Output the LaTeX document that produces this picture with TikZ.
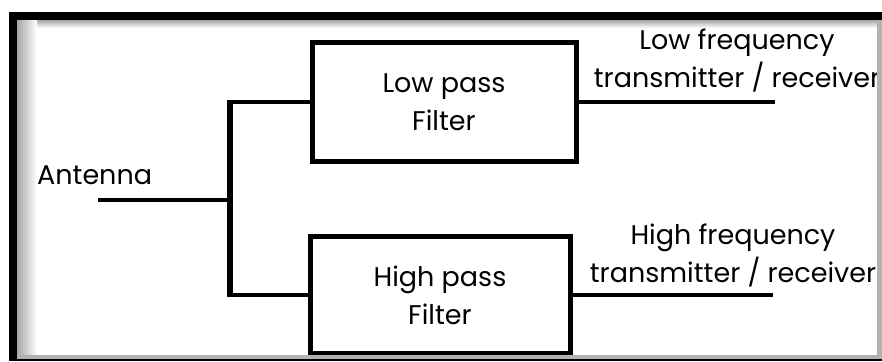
\documentclass[tikz,border=0pt]{standalone}
\usepackage{fontspec}
\newfontfamily\diagfont{Poppins}
\usetikzlibrary{positioning}

\begin{document}
\begin{tikzpicture}[x=1pt, y=1pt, font=\diagfont\fontsize{27}{38}\selectfont,
	filterbox/.style={draw, line width=5pt, align=center, inner sep=0pt},
	wire/.style={line width=4pt},
	lbl/.style={align=center, inner sep=0pt}]
	\useasboundingbox (0,0) rectangle (882,361);
	% filters
	\node[filterbox, minimum width=264, minimum height=119] (lowf) at (444,258.5) {Low pass\\Filter};
	\node[filterbox, minimum width=260, minimum height=116] (highf) at (440,66) {High pass\\Filter};
	% labels
	\node[lbl, anchor=west] (antlbl) at (37,186) {Antenna};
	\node[lbl] (lowlbl) at (737,301) {Low frequency\\transmitter / receiver};
	\node[lbl] (highlbl) at (733,106) {High frequency\\transmitter / receiver};
	% wires
	\coordinate (antend) at (98,161);
	\coordinate (jmid) at (230,161);
	\coordinate (jtop) at (230,258.5);
	\coordinate (jbot) at (230,66);
	\coordinate (lowend) at (775,258.5);
	\coordinate (highend) at (773,66);
	\draw[wire] (antend) -- (jmid);
	\draw[line width=6pt] ([yshift=2pt]jtop) -- ([yshift=-2pt]jbot);
	\draw[wire] (jtop) -- (lowf.west);
	\draw[wire] (jbot) -- (highf.west);
	\draw[wire] (lowf.east) -- (lowend);
	\draw[wire] (highf.east) -- (highend);
	% frame
	\shade[top color=gray!70, bottom color=white] (17,333) rectangle (877,341);
	\shade[left color=gray!70, right color=white] (17,4) rectangle (37,341);
	\fill[gray!60] (877,2) rectangle (882,341);
	\fill[gray!60] (17,2) rectangle (882,6);
	\fill[black] (9,0) rectangle (882,2);
	\fill[black] (9,341) rectangle (882,349);
	\fill[black] (9,0) rectangle (17,349);
\end{tikzpicture}
\end{document}
